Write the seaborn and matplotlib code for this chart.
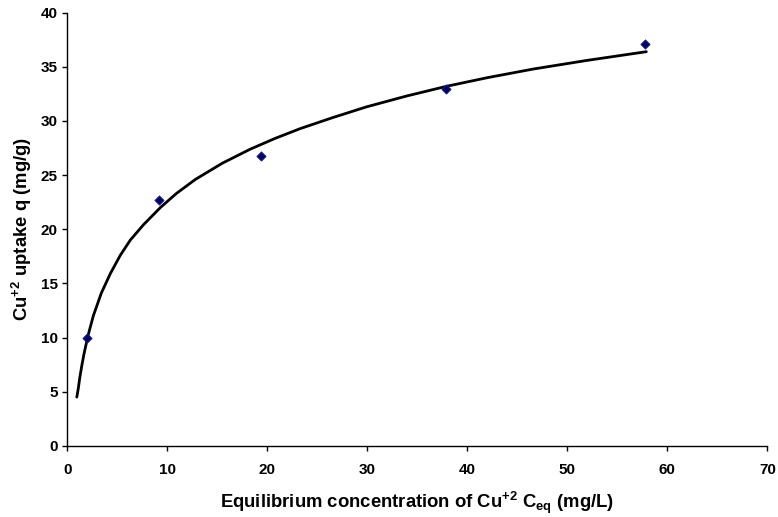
import matplotlib
matplotlib.use("Agg")
import matplotlib.pyplot as plt
import seaborn as sns
import pandas as pd

# measured uptake points
c_eq = [2.0, 9.2, 19.4, 37.9, 57.8]
q_uptake = [10.0, 22.7, 26.8, 33.0, 37.1]

# fitted trend curve
curve_x = [0.95, 1.1, 1.25, 1.45, 1.65, 2.05, 2.6, 3.4, 4.3, 5.3, 6.3, 7.6, 9.3,
           10.9, 12.8, 15.5, 18.3, 20.8, 23.3, 26.5, 29.9, 33.9, 37.9, 42.0,
           46.6, 52.0, 57.9]
curve_y = [4.5, 5.3, 6.3, 7.4, 8.4, 10.1, 12.0, 14.1, 15.9, 17.6, 19.0, 20.4, 22.0,
           23.3, 24.6, 26.1, 27.4, 28.4, 29.3, 30.3, 31.3, 32.3, 33.2, 34.0,
           34.8, 35.6, 36.4]

x_ticks = [0, 10, 20, 30, 40, 50, 60, 70]
y_ticks = [0, 5, 10, 15, 20, 25, 30, 35, 40]

sns.set_style("ticks")
plt.rcParams["font.family"] = ["Liberation Sans", "DejaVu Sans"]
plt.rcParams["font.weight"] = "bold"
plt.rcParams["text.color"] = "black"
plt.rcParams["axes.labelcolor"] = "black"
plt.rcParams["mathtext.fontset"] = "custom"
plt.rcParams["mathtext.bf"] = "Liberation Sans:bold"
plt.rcParams["mathtext.rm"] = "Liberation Sans:bold"
plt.rcParams["mathtext.default"] = "bf"

pts = pd.DataFrame({"C": c_eq, "q": q_uptake})
fit = pd.DataFrame({"C": curve_x, "q": curve_y})

fig = plt.figure(figsize=(7.78, 5.17), dpi=100)
ax = fig.add_axes([0.0865, 0.1377, 0.8998, 0.8377])

sns.lineplot(data=fit, x="C", y="q", ax=ax, color="black", linewidth=2, sort=False)
sns.scatterplot(data=pts, x="C", y="q", ax=ax, marker="D", s=22,
                color="#000066", edgecolor="#1a1aa0", linewidth=0.6, zorder=5)

ax.set_xlim(0, 70)
ax.set_ylim(0, 40)
ax.set_xticks(x_ticks)
ax.set_yticks(y_ticks)
ax.tick_params(direction="out", length=3.5, width=1, labelsize=11, colors="black")
for lab in ax.get_xticklabels() + ax.get_yticklabels():
    lab.set_fontweight("bold")
ax.xaxis.set_tick_params(pad=9)

for side in ["top", "right"]:
    ax.spines[side].set_visible(False)
for side in ["left", "bottom"]:
    ax.spines[side].set_color("black")
    ax.spines[side].set_linewidth(1)

ax.set_xlabel(r"Equilibrium concentration of Cu$^{+2}$ C$_{eq}$ (mg/L)",
              fontsize=13.3, fontweight="bold", labelpad=9, color="black")
ax.set_ylabel(r"Cu$^{+2}$ uptake q (mg/g)", fontsize=13.3, fontweight="bold",
              labelpad=5, color="black")

fig.savefig("out.png", dpi=100)
